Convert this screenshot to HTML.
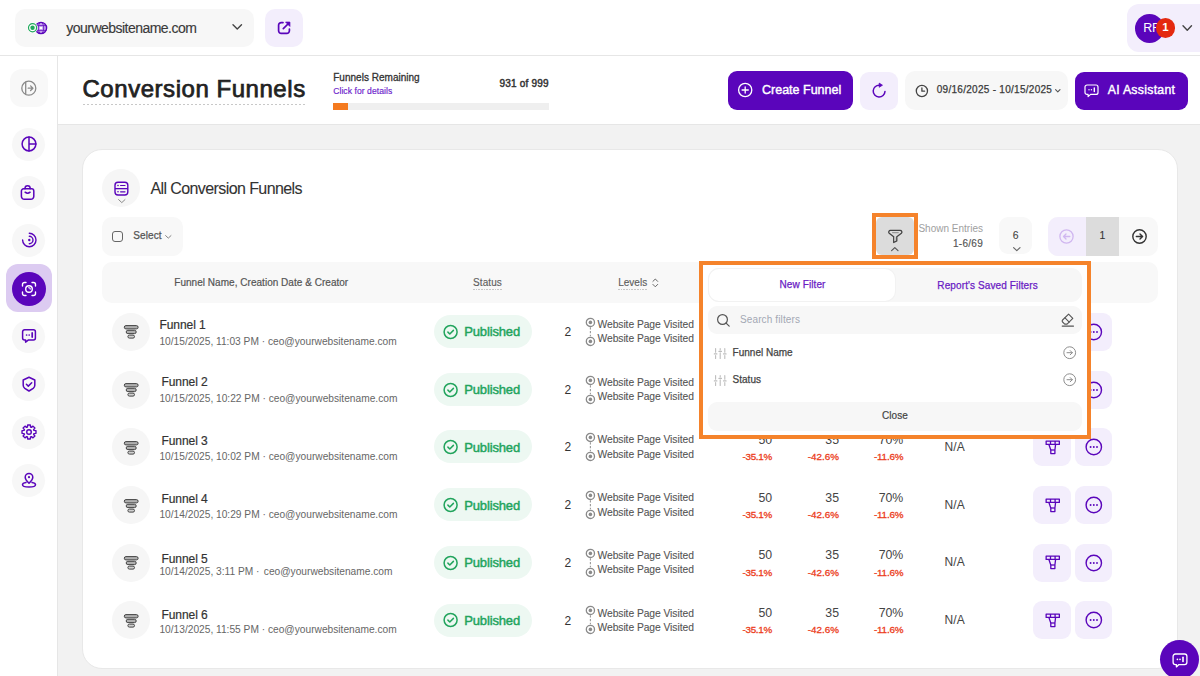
<!DOCTYPE html>
<html><head><meta charset="utf-8"><title>Conversion Funnels</title>
<style>
html,body{margin:0;padding:0;}
body{width:1200px;height:676px;overflow:hidden;position:relative;background:#f2f2f2;font-family:"Liberation Sans",sans-serif;}
svg{display:block;overflow:visible;}
</style></head><body>
<div style="position:absolute;left:0px;top:0px;width:1200px;height:55px;background:#fff;border-radius:0px;"></div>
<div style="position:absolute;left:0px;top:55px;width:1200px;height:1px;background:#e6e6e6;border-radius:0px;"></div>
<div style="position:absolute;left:15px;top:9px;width:239px;height:38px;background:#f7f7f7;border-radius:10px;"></div>
<svg style="position:absolute;left:24px;top:17px;" width="26" height="22" viewBox="0 0 26 22" fill="none"><circle cx="17" cy="11" r="5.6" fill="#c7a5ee" stroke="#5a05bb" stroke-width="1.4"/><g stroke="#5a05bb" stroke-width="0.9" opacity="0.85"><ellipse cx="17" cy="11" rx="2.7" ry="5.6"/><line x1="11.4" y1="8.6" x2="22.6" y2="8.6"/><line x1="11.4" y1="13.4" x2="22.6" y2="13.4"/></g><circle cx="17" cy="11" r="1.3" fill="#fff"/><circle cx="8.55" cy="10.75" r="5.2" fill="#fff"/><circle cx="8.55" cy="10.75" r="4.05" stroke="#1ea85a" stroke-width="1.2" fill="#fff"/><circle cx="8.55" cy="10.75" r="2.2" fill="#1ea85a"/></svg>
<div style="position:absolute;top:21.15px;font-size:14px;line-height:14px;color:#3a3a3a;font-weight:400;letter-spacing:-0.53px;white-space:nowrap;-webkit-text-stroke:0.15px #3a3a3a;left:66.3px;">yourwebsitename.com</div>
<svg style="position:absolute;left:232px;top:24px;" width="11" height="6" viewBox="0 0 11 6" fill="none"><polyline points="1,0.8 5.25,5 9.5,0.8" stroke="#444" stroke-width="1.4" stroke-linecap="round" stroke-linejoin="round"/></svg>
<div style="position:absolute;left:264.5px;top:9px;width:38.5px;height:38px;background:#f3eefc;border-radius:10px;"></div>
<svg style="position:absolute;left:276.5px;top:21px;" width="14" height="14" viewBox="0 0 14 14" fill="none"><path d="M6 1.6H4.2A2.6 2.6 0 0 0 1.6 4.2v5.6A2.6 2.6 0 0 0 4.2 12.4h5.6a2.6 2.6 0 0 0 2.6-2.6V8" stroke="#5a05bb" stroke-width="1.7" stroke-linecap="round"/><path d="M6.3 7.7L12 2" stroke="#5a05bb" stroke-width="1.7" stroke-linecap="round"/><path d="M8.6 1.1H12.9V5.4Z" fill="#5a05bb" stroke="#5a05bb" stroke-width="0.8" stroke-linejoin="round"/></svg>
<div style="position:absolute;left:1127px;top:4px;width:88px;height:48px;background:#f3eefc;border-radius:12px;"></div>
<div style="position:absolute;left:1135.00px;top:13.50px;width:29px;height:29px;background:#5a05bb;border-radius:50%;"></div>
<div style="position:absolute;top:22.32px;font-size:12.5px;line-height:12.5px;color:#fff;font-weight:400;letter-spacing:-0.3px;white-space:nowrap;left:1143.3px;">RF</div>
<div style="position:absolute;left:1155.75px;top:18.25px;width:19.5px;height:19.5px;background:#e4290f;border-radius:50%;"></div>
<div style="position:absolute;top:22.47px;font-size:11.5px;line-height:11.5px;color:#fff;font-weight:700;letter-spacing:0px;white-space:nowrap;left:865.5px;width:600px;text-align:center;">1</div>
<svg style="position:absolute;left:1181.5px;top:24.5px;" width="11" height="6.5" viewBox="0 0 11 6.5" fill="none"><polyline points="1,0.8 5.25,5.2 9.5,0.8" stroke="#444" stroke-width="1.4" stroke-linecap="round" stroke-linejoin="round"/></svg>
<div style="position:absolute;left:0px;top:56px;width:57px;height:620px;background:#fff;border-radius:0px;"></div>
<div style="position:absolute;left:57px;top:56px;width:1px;height:620px;background:#e6e6e6;border-radius:0px;"></div>
<div style="position:absolute;left:10px;top:69px;width:38px;height:38px;background:#f8f8f8;border-radius:12px;"></div>
<svg style="position:absolute;left:20px;top:80px;" width="18" height="17" viewBox="0 0 18 17" fill="none"><circle cx="8.8" cy="8.2" r="7" stroke="#8a8a8a" stroke-width="1.3"/><line x1="5.7" y1="1.8" x2="5.7" y2="14.6" stroke="#8a8a8a" stroke-width="1.3"/><path d="M8.2 8.2h4.6M10.6 5.9l2.3 2.3-2.3 2.3" stroke="#8a8a8a" stroke-width="1.3" stroke-linecap="round" stroke-linejoin="round"/></svg>
<div style="position:absolute;left:12.10px;top:127.50px;width:33px;height:33px;background:#f7f7f7;border-radius:50%;"></div>
<div style="position:absolute;left:12.10px;top:175.50px;width:33px;height:33px;background:#f7f7f7;border-radius:50%;"></div>
<div style="position:absolute;left:12.10px;top:223.50px;width:33px;height:33px;background:#f7f7f7;border-radius:50%;"></div>
<div style="position:absolute;left:12.10px;top:319.50px;width:33px;height:33px;background:#f7f7f7;border-radius:50%;"></div>
<div style="position:absolute;left:12.10px;top:367.50px;width:33px;height:33px;background:#f7f7f7;border-radius:50%;"></div>
<div style="position:absolute;left:12.10px;top:415.50px;width:33px;height:33px;background:#f7f7f7;border-radius:50%;"></div>
<div style="position:absolute;left:12.10px;top:463.50px;width:33px;height:33px;background:#f7f7f7;border-radius:50%;"></div>
<div style="position:absolute;left:5.5px;top:264px;width:46.5px;height:48px;background:#dccbf1;border-radius:12px;"></div>
<div style="position:absolute;left:11.90px;top:271.50px;width:34px;height:34px;background:#5a05bb;border-radius:50%;"></div>
<svg style="position:absolute;left:20.6px;top:136px;" width="16" height="16" viewBox="0 0 16 16" fill="none"><circle cx="8" cy="8" r="6.9" stroke="#5a05bb" stroke-width="1.5" stroke-linecap="round" stroke-linejoin="round"/><path d="M8 1.1V14.9M8 8H14.9" stroke="#5a05bb" stroke-width="1.5" stroke-linecap="round" stroke-linejoin="round"/></svg>
<svg style="position:absolute;left:20.4px;top:184px;" width="16" height="16" viewBox="0 0 16 16" fill="none"><path d="M3.6 4.8h8a2.2 2.2 0 0 1 2.2 2.2v5.3a3 3 0 0 1-3 3H4.4a3 3 0 0 1-3-3V7a2.2 2.2 0 0 1 2.2-2.2z" stroke="#5a05bb" stroke-width="1.5" stroke-linecap="round" stroke-linejoin="round"/><path d="M5 4.8V4.3a2.6 2.6 0 0 1 5.2 0v.5" stroke="#5a05bb" stroke-width="1.5" stroke-linecap="round" stroke-linejoin="round"/><path d="M5.1 8.2q2.5 2 5 0" stroke="#5a05bb" stroke-width="1.5" stroke-linecap="round" stroke-linejoin="round"/></svg>
<svg style="position:absolute;left:20.6px;top:232px;" width="16" height="16" viewBox="0 0 16 16" fill="none"><path d="M8.3 1.3A6.7 6.7 0 1 1 1.6 8" stroke="#5a05bb" stroke-width="1.4" stroke-linecap="round"/><path d="M8.3 4.3A3.7 3.7 0 0 1 8.3 11.7" stroke="#5a05bb" stroke-width="1.4" stroke-linecap="round"/><circle cx="8.3" cy="8" r="1.2" fill="#5a05bb"/></svg>
<svg style="position:absolute;left:20.9px;top:280.5px;" width="16" height="16" viewBox="0 0 16 16" fill="none"><path d="M1.5 5V3.5a2 2 0 0 1 2-2H5M11 1.5h1.5a2 2 0 0 1 2 2V5M14.5 11v1.5a2 2 0 0 1-2 2H11M5 14.5H3.5a2 2 0 0 1-2-2V11" stroke="#fff" stroke-width="1.4" stroke-linecap="round"/><circle cx="8" cy="8" r="3.3" stroke="#fff" stroke-width="1.4"/><path d="M7.6 6.8a1.2 1.2 0 0 1 1.6 1.4" stroke="#fff" stroke-width="1.1" stroke-linecap="round"/></svg>
<svg style="position:absolute;left:20.6px;top:328px;" width="16" height="16" viewBox="0 0 16 16" fill="none"><path d="M3.6 1.8h8.8a2 2 0 0 1 2 2v6.3a2 2 0 0 1-2 2H7.2L4.6 14.1V12.1H3.6a2 2 0 0 1-2-2V3.8a2 2 0 0 1 2-2z" stroke="#5a05bb" stroke-width="1.5" stroke-linecap="round" stroke-linejoin="round"/><circle cx="5.6" cy="7" r="0.85" fill="#5a05bb"/><circle cx="8.2" cy="7" r="0.85" fill="#5a05bb"/><path d="M11.2 4.9V9.1" stroke="#5a05bb" stroke-width="1.7" stroke-linecap="round"/></svg>
<svg style="position:absolute;left:20.6px;top:376px;" width="16" height="16" viewBox="0 0 16 16" fill="none"><path d="M8 1.3L13.8 4v5.2c0 1.3-.6 2.4-1.6 3.2L8 15l-4.2-2.6c-1-.8-1.6-1.9-1.6-3.2V4z" stroke="#5a05bb" stroke-width="1.5" stroke-linecap="round" stroke-linejoin="round"/><path d="M5.4 8.3l1.9 1.8 3.4-3.3" stroke="#5a05bb" stroke-width="1.5" stroke-linecap="round" stroke-linejoin="round"/></svg>
<svg style="position:absolute;left:20.6px;top:424px;" width="16" height="16" viewBox="0 0 16 16" fill="none"><polygon points="12.95,6.41 14.97,6.66 14.97,9.34 12.95,9.59 12.62,10.38 13.88,11.98 11.98,13.88 10.38,12.62 9.59,12.95 9.34,14.97 6.66,14.97 6.41,12.95 5.62,12.62 4.02,13.88 2.12,11.98 3.38,10.38 3.05,9.59 1.03,9.34 1.03,6.66 3.05,6.41 3.38,5.62 2.12,4.02 4.02,2.12 5.62,3.38 6.41,3.05 6.66,1.03 9.34,1.03 9.59,3.05 10.38,3.38 11.98,2.12 13.88,4.02 12.62,5.62" stroke="#5a05bb" stroke-width="1.4" stroke-linejoin="round"/><circle cx="8" cy="8" r="2.3" stroke="#5a05bb" stroke-width="1.4"/></svg>
<svg style="position:absolute;left:20.6px;top:472px;" width="16" height="16" viewBox="0 0 16 16" fill="none"><path d="M8 11.2S4.2 7.6 4.2 5.2a3.8 3.8 0 0 1 7.6 0c0 2.4-3.8 6-3.8 6z" stroke="#5a05bb" stroke-width="1.5" stroke-linecap="round" stroke-linejoin="round"/><circle cx="8" cy="5.2" r="1.1" fill="#5a05bb"/><path d="M5 10.6c-2.2.4-3.5 1.2-3.5 2.1 0 1.3 2.9 2.3 6.5 2.3s6.5-1 6.5-2.3c0-.9-1.3-1.7-3.5-2.1" stroke="#5a05bb" stroke-width="1.5" stroke-linecap="round" stroke-linejoin="round"/></svg>
<div style="position:absolute;left:58px;top:56px;width:1142px;height:68px;background:#fff;border-radius:0px;"></div>
<div style="position:absolute;left:58px;top:124px;width:1142px;height:1px;background:#e6e6e6;border-radius:0px;"></div>
<div style="position:absolute;top:77.48px;font-size:24px;line-height:24px;color:#222;font-weight:400;letter-spacing:0.54px;white-space:nowrap;-webkit-text-stroke:0.75px #222;left:82.5px;">Conversion Funnels</div>
<div style="position:absolute;left:82.5px;top:104px;width:222.5px;height:1px;background:repeating-linear-gradient(90deg,#c8c8c8 0 2.2px,transparent 2.2px 4.0px);"></div>
<div style="position:absolute;top:72.53px;font-size:10px;line-height:10px;color:#333;font-weight:400;letter-spacing:0.02px;white-space:nowrap;-webkit-text-stroke:0.3px #333;left:333.2px;">Funnels Remaining</div>
<div style="position:absolute;top:86.52px;font-size:8.6px;line-height:8.6px;color:#6b1dcb;font-weight:400;letter-spacing:0.05px;white-space:nowrap;-webkit-text-stroke:0.15px #6b1dcb;left:333.2px;">Click for details</div>
<div style="position:absolute;top:78.83px;font-size:10px;line-height:10px;color:#333;font-weight:400;letter-spacing:0.2px;white-space:nowrap;-webkit-text-stroke:0.45px #333;right:651.3px;text-align:right;">931 of 999</div>
<div style="position:absolute;left:333px;top:103px;width:216px;height:7px;background:#efefef;border-radius:0px;"></div>
<div style="position:absolute;left:333px;top:103px;width:15px;height:7px;background:#f47a1f;border-radius:0px;"></div>
<div style="position:absolute;left:728px;top:71px;width:125px;height:39px;background:#5a05bb;border-radius:9px;"></div>
<svg style="position:absolute;left:737px;top:82px;" width="16" height="16" viewBox="0 0 16 16" fill="none"><circle cx="8.2" cy="8" r="6.6" stroke="#fff" stroke-width="1.3"/><path d="M8.2 4.9v6.2M5.1 8h6.2" stroke="#fff" stroke-width="1.3" stroke-linecap="round"/></svg>
<div style="position:absolute;top:84.22px;font-size:12.5px;line-height:12.5px;color:#fff;font-weight:400;letter-spacing:0px;white-space:nowrap;-webkit-text-stroke:0.4px #fff;left:762px;">Create Funnel</div>
<div style="position:absolute;left:860px;top:71.5px;width:37.5px;height:38.0px;background:#f3eefc;border-radius:9px;"></div>
<svg style="position:absolute;left:871px;top:83px;" width="16" height="16" viewBox="0 0 16 16" fill="none"><path d="M14 8.4A5.9 5.9 0 1 1 8.4 2.2" stroke="#5a05bb" stroke-width="1.5" stroke-linecap="round"/><path d="M8.2 0.1L11.5 2.2 8.2 4.3Z" fill="#5a05bb" stroke="#5a05bb" stroke-width="0.7" stroke-linejoin="round"/></svg>
<div style="position:absolute;left:905px;top:71px;width:162.70000000000005px;height:38.5px;background:#f7f7f7;border-radius:10px;"></div>
<svg style="position:absolute;left:915px;top:84px;" width="14" height="14" viewBox="0 0 14 14" fill="none"><circle cx="6.9" cy="7" r="5.6" stroke="#444" stroke-width="1.3"/><path d="M6.9 3.9V7.2H9.6" stroke="#444" stroke-width="1.3" stroke-linecap="round" stroke-linejoin="round"/></svg>
<div style="position:absolute;top:85.44px;font-size:10px;line-height:10px;color:#3a3a3a;font-weight:400;letter-spacing:0.28px;white-space:nowrap;-webkit-text-stroke:0.25px #3a3a3a;left:936.75px;">09/16/2025 - 10/15/2025</div>
<svg style="position:absolute;left:1055px;top:88.5px;" width="6" height="4" viewBox="0 0 6 4" fill="none"><polyline points="0.6,0.6 2.8,2.9 5,0.6" stroke="#555" stroke-width="1.1" stroke-linecap="round" stroke-linejoin="round"/></svg>
<div style="position:absolute;left:1074.7px;top:71.5px;width:113.0px;height:38.3px;background:#5a05bb;border-radius:9px;"></div>
<svg style="position:absolute;left:1084px;top:84px;" width="15" height="14" viewBox="0 0 15 14" fill="none"><path d="M3 1h9a2 2 0 0 1 2 2v5.4a2 2 0 0 1-2 2H6.6L4.1 12.6V10.4H3a2 2 0 0 1-2-2V3a2 2 0 0 1 2-2z" stroke="#fff" stroke-width="1.2" stroke-linejoin="round"/><circle cx="5" cy="5.7" r="0.7" fill="#fff"/><circle cx="7.4" cy="5.7" r="0.7" fill="#fff"/><path d="M10.3 3.9V7.5" stroke="#fff" stroke-width="1.4" stroke-linecap="round"/></svg>
<div style="position:absolute;top:84.29px;font-size:12.3px;line-height:12.3px;color:#fff;font-weight:400;letter-spacing:0.28px;white-space:nowrap;-webkit-text-stroke:0.4px #fff;left:1107.7px;">AI Assistant</div>
<div style="position:absolute;left:82px;top:149px;width:1095.5px;height:520px;background:#fff;border-radius:20px;border:1px solid #e8e8e8;box-sizing:border-box;"></div>
<div style="position:absolute;left:102.00px;top:169.00px;width:38px;height:38px;background:#f6f6f6;border-radius:50%;"></div>
<svg style="position:absolute;left:114px;top:181px;" width="15" height="15" viewBox="0 0 15 15" fill="none"><rect x="1" y="1.3" width="12.8" height="12.7" rx="3" stroke="#5a05bb" stroke-width="1.4"/><path d="M1 7.65H13.8" stroke="#5a05bb" stroke-width="1.3"/><circle cx="4" cy="4.5" r="0.8" fill="#5a05bb"/><circle cx="4" cy="10.8" r="0.8" fill="#5a05bb"/><path d="M6.6 4.5h4.4M6.6 10.8h4.4" stroke="#5a05bb" stroke-width="1.2" stroke-linecap="round"/></svg>
<svg style="position:absolute;left:117.5px;top:198.5px;" width="8" height="5" viewBox="0 0 8 5" fill="none"><polyline points="0.6,0.6 3.8,3.6 7,0.6" stroke="#8a8a8a" stroke-width="1" stroke-linecap="round" stroke-linejoin="round"/></svg>
<div style="position:absolute;top:181.46px;font-size:16px;line-height:16px;color:#333;font-weight:400;letter-spacing:-0.59px;white-space:nowrap;-webkit-text-stroke:0.1px #333;left:150.4px;">All Conversion Funnels</div>
<div style="position:absolute;left:102px;top:217px;width:81px;height:39px;background:#f8f8f8;border-radius:10px;"></div>
<div style="position:absolute;left:112px;top:230.5px;width:9px;height:9px;border:1.5px solid #666;border-radius:3px;"></div>
<div style="position:absolute;top:231.13px;font-size:10px;line-height:10px;color:#555;font-weight:400;letter-spacing:0.1px;white-space:nowrap;-webkit-text-stroke:0.25px #555;left:133.3px;">Select</div>
<svg style="position:absolute;left:165.2px;top:234.5px;" width="7" height="4" viewBox="0 0 7 4" fill="none"><polyline points="0.6,0.6 3.3,3.1 6,0.6" stroke="#777" stroke-width="0.9" stroke-linecap="round" stroke-linejoin="round"/></svg>
<div style="position:absolute;left:872px;top:213px;width:38px;height:38px;border:4px solid #f5832b;"></div>
<div style="position:absolute;left:876px;top:217px;width:38px;height:38px;background:#dcdcdc;border-radius:6px;"></div>
<svg style="position:absolute;left:880px;top:222px;" width="30" height="30" viewBox="0 0 30 30" fill="none"><path d="M10.4 8.4H20.2A1.7 1.7 0 0 1 21.4 11.3L16.8 14.8V18.9L13.7 20.5V14.8L9.2 11.3A1.7 1.7 0 0 1 10.4 8.4Z" stroke="#444" stroke-width="1.3" stroke-linejoin="round"/><path d="M12.6 10.6H18.2" stroke="#999" stroke-width="1.3" stroke-linecap="round"/><path d="M14.9 15.2V19" stroke="#bbb" stroke-width="1.6"/></svg>
<svg style="position:absolute;left:891.3px;top:247px;" width="8" height="4.5" viewBox="0 0 8 4.5" fill="none"><polyline points="0.6,3.6 3.8,0.6 7,3.6" stroke="#555" stroke-width="1.2" stroke-linecap="round" stroke-linejoin="round"/></svg>
<div style="position:absolute;top:223.94px;font-size:10px;line-height:10px;color:#a0a0a0;font-weight:400;letter-spacing:0.01px;white-space:nowrap;right:217px;text-align:right;">Shown Entries</div>
<div style="position:absolute;top:239.13px;font-size:10px;line-height:10px;color:#555;font-weight:400;letter-spacing:0.27px;white-space:nowrap;-webkit-text-stroke:0.15px #555;right:217px;text-align:right;">1-6/69</div>
<div style="position:absolute;left:999.3px;top:217.3px;width:33.0px;height:37.19999999999999px;background:#f8f8f8;border-radius:9px;"></div>
<div style="position:absolute;top:231.00px;font-size:10.4px;line-height:10.4px;color:#444;font-weight:400;letter-spacing:0px;white-space:nowrap;-webkit-text-stroke:0.1px #444;left:715.6px;width:600px;text-align:center;">6</div>
<svg style="position:absolute;left:1012.5px;top:246.5px;" width="8" height="4.5" viewBox="0 0 8 4.5" fill="none"><polyline points="0.6,0.6 3.8,3.6 7,0.6" stroke="#666" stroke-width="1.2" stroke-linecap="round" stroke-linejoin="round"/></svg>
<div style="position:absolute;left:1048.2px;top:217.3px;width:109.5px;height:38.39999999999998px;background:#f8f8f8;border-radius:10px;"></div>
<div style="position:absolute;left:1048.2px;top:217.3px;width:37.8px;height:38.4px;background:#f3eefc;border-radius:10px 0 0 10px;"></div>
<div style="position:absolute;left:1086px;top:217.3px;width:33.299999999999955px;height:38.39999999999998px;background:#dcdcdc;border-radius:0px;"></div>
<svg style="position:absolute;left:1059px;top:229px;" width="15" height="15" viewBox="0 0 15 15" fill="none"><circle cx="7.5" cy="7.5" r="6.6" stroke="#d0b7f0" stroke-width="1.3"/><path d="M10.8 7.5H4.5M7 5 4.5 7.5 7 10" stroke="#d0b7f0" stroke-width="1.3" stroke-linecap="round" stroke-linejoin="round"/></svg>
<div style="position:absolute;top:231.00px;font-size:10.4px;line-height:10.4px;color:#333;font-weight:400;letter-spacing:0px;white-space:nowrap;-webkit-text-stroke:0.1px #333;left:802.5px;width:600px;text-align:center;">1</div>
<svg style="position:absolute;left:1131.5px;top:229px;" width="15" height="15" viewBox="0 0 15 15" fill="none"><circle cx="7.5" cy="7.5" r="6.7" stroke="#333" stroke-width="1.4"/><path d="M4.3 7.5h6.3M8 5l2.6 2.5L8 10" stroke="#333" stroke-width="1.4" stroke-linecap="round" stroke-linejoin="round"/></svg>
<div style="position:absolute;left:101.5px;top:262px;width:1056.5px;height:41px;background:#f8f8f8;border-radius:10px;"></div>
<div style="position:absolute;top:277.54px;font-size:10px;line-height:10px;color:#555;font-weight:400;letter-spacing:0.03px;white-space:nowrap;-webkit-text-stroke:0.2px #555;left:174.3px;">Funnel Name, Creation Date &amp; Creator</div>
<div style="position:absolute;top:277.84px;font-size:10px;line-height:10px;color:#5e5e5e;font-weight:400;letter-spacing:0.1px;white-space:nowrap;-webkit-text-stroke:0.15px #5e5e5e;left:473px;">Status</div>
<div style="position:absolute;left:473px;top:289px;width:29.5px;height:1px;background:repeating-linear-gradient(90deg,#c6c6c6 0 1.7px,transparent 1.7px 2.7px);"></div>
<div style="position:absolute;top:277.84px;font-size:10px;line-height:10px;color:#5e5e5e;font-weight:400;letter-spacing:0px;white-space:nowrap;-webkit-text-stroke:0.15px #5e5e5e;left:618.25px;">Levels</div>
<div style="position:absolute;left:618px;top:289px;width:30px;height:1px;background:repeating-linear-gradient(90deg,#c6c6c6 0 1.7px,transparent 1.7px 2.7px);"></div>
<svg style="position:absolute;left:652px;top:277.5px;" width="7" height="10" viewBox="0 0 7 10" fill="none"><polyline points="0.9,3.4 3.3,1 5.7,3.4" stroke="#666" stroke-width="1" stroke-linecap="round" stroke-linejoin="round"/><polyline points="0.9,6.4 3.3,8.8 5.7,6.4" stroke="#666" stroke-width="1" stroke-linecap="round" stroke-linejoin="round"/></svg>
<div style="position:absolute;left:111.80px;top:312.70px;width:38px;height:38px;background:#f6f6f6;border-radius:50%;"></div>
<svg style="position:absolute;left:122.5px;top:325.3px;" width="16" height="14" viewBox="0 0 16 14" fill="none"><rect x="1.3" y="0.6" width="13.8" height="3.3" rx="1.65" fill="#b0b0b0" stroke="#444" stroke-width="1"/><rect x="3.2" y="5.3" width="10" height="3.3" rx="1.65" fill="#b0b0b0" stroke="#444" stroke-width="1"/><rect x="4.9" y="10.1" width="6.6" height="3.0" rx="1.5" fill="#d0d0d0" stroke="#444" stroke-width="1"/></svg>
<div style="position:absolute;top:318.59px;font-size:12px;line-height:12px;color:#333;font-weight:400;letter-spacing:-0.05px;white-space:nowrap;-webkit-text-stroke:0.2px #333;left:159.4px;">Funnel 1</div>
<div style="position:absolute;top:336.57px;font-size:10.2px;line-height:10.2px;color:#666;font-weight:400;letter-spacing:0px;white-space:nowrap;left:159.4px;">10/15/2025, 11:03 PM · ceo@yourwebsitename.com</div>
<div style="position:absolute;left:434px;top:315.0px;width:98px;height:33.0px;background:#edf8f2;border-radius:16.5px;"></div>
<svg style="position:absolute;left:442.5px;top:323.7px;" width="16" height="16" viewBox="0 0 16 16" fill="none"><circle cx="7.6" cy="8" r="6.5" stroke="#22a45d" stroke-width="1.5"/><path d="M4.9 8.1l1.9 1.9 3.6-3.6" stroke="#22a45d" stroke-width="1.5" stroke-linecap="round" stroke-linejoin="round"/></svg>
<div style="position:absolute;top:325.30px;font-size:13px;line-height:13px;color:#22a45d;font-weight:400;letter-spacing:-0.15px;white-space:nowrap;-webkit-text-stroke:0.45px #22a45d;left:464.25px;">Published</div>
<div style="position:absolute;top:325.94px;font-size:12px;line-height:12px;color:#333;font-weight:400;letter-spacing:0px;white-space:nowrap;left:564.5px;">2</div>
<svg style="position:absolute;left:584.5px;top:316.7px;" width="11" height="30" viewBox="0 0 11 30" fill="none"><circle cx="5.4" cy="5.4" r="4.1" stroke="#8a8a8a" stroke-width="1.3"/><circle cx="5.4" cy="5.4" r="1.8" fill="#8a8a8a"/><path d="M5.4 10.2V19.2" stroke="#999" stroke-width="1.1" stroke-dasharray="2.2 1.6"/><circle cx="5.4" cy="24.4" r="4.1" stroke="#8a8a8a" stroke-width="1.3"/><circle cx="5.4" cy="24.4" r="1.8" fill="#8a8a8a"/></svg>
<div style="position:absolute;top:319.98px;font-size:10.3px;line-height:10.3px;color:#555;font-weight:400;letter-spacing:-0.06px;white-space:nowrap;-webkit-text-stroke:0.1px #555;left:597.5px;">Website Page Visited</div>
<div style="position:absolute;top:334.28px;font-size:10.3px;line-height:10.3px;color:#555;font-weight:400;letter-spacing:-0.06px;white-space:nowrap;-webkit-text-stroke:0.1px #555;left:597.5px;">Website Page Visited</div>
<div style="position:absolute;top:318.29px;font-size:12.3px;line-height:12.3px;color:#444;font-weight:400;letter-spacing:0.1px;white-space:nowrap;right:427.70000000000005px;text-align:right;">50</div>
<div style="position:absolute;top:336.72px;font-size:9.9px;line-height:9.9px;color:#ec3d20;font-weight:400;letter-spacing:-0.3px;white-space:nowrap;-webkit-text-stroke:0.3px #ec3d20;right:428px;text-align:right;">-35.1%</div>
<div style="position:absolute;top:318.29px;font-size:12.3px;line-height:12.3px;color:#444;font-weight:400;letter-spacing:0.1px;white-space:nowrap;right:360.79999999999995px;text-align:right;">35</div>
<div style="position:absolute;top:336.72px;font-size:9.9px;line-height:9.9px;color:#ec3d20;font-weight:400;letter-spacing:0.0px;white-space:nowrap;-webkit-text-stroke:0.3px #ec3d20;right:361px;text-align:right;">-42.6%</div>
<div style="position:absolute;top:318.29px;font-size:12.3px;line-height:12.3px;color:#444;font-weight:400;letter-spacing:0.0px;white-space:nowrap;right:296.70000000000005px;text-align:right;">70%</div>
<div style="position:absolute;top:336.72px;font-size:9.9px;line-height:9.9px;color:#ec3d20;font-weight:400;letter-spacing:-0.2px;white-space:nowrap;-webkit-text-stroke:0.3px #ec3d20;right:296.70000000000005px;text-align:right;">-11.6%</div>
<div style="position:absolute;top:325.34px;font-size:12px;line-height:12px;color:#444;font-weight:400;letter-spacing:0.13px;white-space:nowrap;left:944.5px;">N/A</div>
<div style="position:absolute;left:1033.3px;top:312.7px;width:37.40000000000009px;height:38.0px;background:#f3eefc;border-radius:9px;"></div>
<svg style="position:absolute;left:1044.5px;top:324.2px;" width="16" height="15" viewBox="0 0 16 15" fill="none"><g stroke="#5a05bb" stroke-width="1.3" stroke-linejoin="round"><rect x="1.15" y="1.05" width="13.2" height="3.4"/><path d="M5.5 1.05v3.4M10.1 1.05v3.4"/><path d="M3.9 4.45L5.8 10V13.6H9.9V10L10.6 4.45"/><path d="M5.8 10H9.9"/></g></svg>
<div style="position:absolute;left:1075.3px;top:312.7px;width:37.200000000000045px;height:38.0px;background:#f3eefc;border-radius:9px;"></div>
<svg style="position:absolute;left:1085px;top:322.7px;" width="18" height="18" viewBox="0 0 18 18" fill="none"><circle cx="8.8" cy="9" r="7.7" stroke="#5a05bb" stroke-width="1.4"/><circle cx="5.6" cy="9" r="0.95" fill="#5a05bb"/><circle cx="8.8" cy="9" r="0.95" fill="#5a05bb"/><circle cx="12" cy="9" r="0.95" fill="#5a05bb"/></svg>
<div style="position:absolute;left:111.80px;top:370.50px;width:38px;height:38px;background:#f6f6f6;border-radius:50%;"></div>
<svg style="position:absolute;left:122.5px;top:383.1px;" width="16" height="14" viewBox="0 0 16 14" fill="none"><rect x="1.3" y="0.6" width="13.8" height="3.3" rx="1.65" fill="#b0b0b0" stroke="#444" stroke-width="1"/><rect x="3.2" y="5.3" width="10" height="3.3" rx="1.65" fill="#b0b0b0" stroke="#444" stroke-width="1"/><rect x="4.9" y="10.1" width="6.6" height="3.0" rx="1.5" fill="#d0d0d0" stroke="#444" stroke-width="1"/></svg>
<div style="position:absolute;top:375.84px;font-size:12px;line-height:12px;color:#333;font-weight:400;letter-spacing:-0.05px;white-space:nowrap;-webkit-text-stroke:0.2px #333;left:161.4px;">Funnel 2</div>
<div style="position:absolute;top:394.37px;font-size:10.2px;line-height:10.2px;color:#666;font-weight:400;letter-spacing:0px;white-space:nowrap;left:159.4px;">10/15/2025, 10:22 PM · ceo@yourwebsitename.com</div>
<div style="position:absolute;left:434px;top:372.8px;width:98px;height:33.0px;background:#edf8f2;border-radius:16.5px;"></div>
<svg style="position:absolute;left:442.5px;top:381.5px;" width="16" height="16" viewBox="0 0 16 16" fill="none"><circle cx="7.6" cy="8" r="6.5" stroke="#22a45d" stroke-width="1.5"/><path d="M4.9 8.1l1.9 1.9 3.6-3.6" stroke="#22a45d" stroke-width="1.5" stroke-linecap="round" stroke-linejoin="round"/></svg>
<div style="position:absolute;top:383.10px;font-size:13px;line-height:13px;color:#22a45d;font-weight:400;letter-spacing:-0.15px;white-space:nowrap;-webkit-text-stroke:0.45px #22a45d;left:464.25px;">Published</div>
<div style="position:absolute;top:383.74px;font-size:12px;line-height:12px;color:#333;font-weight:400;letter-spacing:0px;white-space:nowrap;left:564.5px;">2</div>
<svg style="position:absolute;left:584.5px;top:374.5px;" width="11" height="30" viewBox="0 0 11 30" fill="none"><circle cx="5.4" cy="5.4" r="4.1" stroke="#8a8a8a" stroke-width="1.3"/><circle cx="5.4" cy="5.4" r="1.8" fill="#8a8a8a"/><path d="M5.4 10.2V19.2" stroke="#999" stroke-width="1.1" stroke-dasharray="2.2 1.6"/><circle cx="5.4" cy="24.4" r="4.1" stroke="#8a8a8a" stroke-width="1.3"/><circle cx="5.4" cy="24.4" r="1.8" fill="#8a8a8a"/></svg>
<div style="position:absolute;top:377.78px;font-size:10.3px;line-height:10.3px;color:#555;font-weight:400;letter-spacing:-0.06px;white-space:nowrap;-webkit-text-stroke:0.1px #555;left:597.5px;">Website Page Visited</div>
<div style="position:absolute;top:392.08px;font-size:10.3px;line-height:10.3px;color:#555;font-weight:400;letter-spacing:-0.06px;white-space:nowrap;-webkit-text-stroke:0.1px #555;left:597.5px;">Website Page Visited</div>
<div style="position:absolute;top:376.09px;font-size:12.3px;line-height:12.3px;color:#444;font-weight:400;letter-spacing:0.1px;white-space:nowrap;right:427.70000000000005px;text-align:right;">50</div>
<div style="position:absolute;top:394.52px;font-size:9.9px;line-height:9.9px;color:#ec3d20;font-weight:400;letter-spacing:-0.3px;white-space:nowrap;-webkit-text-stroke:0.3px #ec3d20;right:428px;text-align:right;">-35.1%</div>
<div style="position:absolute;top:376.09px;font-size:12.3px;line-height:12.3px;color:#444;font-weight:400;letter-spacing:0.1px;white-space:nowrap;right:360.79999999999995px;text-align:right;">35</div>
<div style="position:absolute;top:394.52px;font-size:9.9px;line-height:9.9px;color:#ec3d20;font-weight:400;letter-spacing:0.0px;white-space:nowrap;-webkit-text-stroke:0.3px #ec3d20;right:361px;text-align:right;">-42.6%</div>
<div style="position:absolute;top:376.09px;font-size:12.3px;line-height:12.3px;color:#444;font-weight:400;letter-spacing:0.0px;white-space:nowrap;right:296.70000000000005px;text-align:right;">70%</div>
<div style="position:absolute;top:394.52px;font-size:9.9px;line-height:9.9px;color:#ec3d20;font-weight:400;letter-spacing:-0.2px;white-space:nowrap;-webkit-text-stroke:0.3px #ec3d20;right:296.70000000000005px;text-align:right;">-11.6%</div>
<div style="position:absolute;top:383.14px;font-size:12px;line-height:12px;color:#444;font-weight:400;letter-spacing:0.13px;white-space:nowrap;left:944.5px;">N/A</div>
<div style="position:absolute;left:1033.3px;top:370.5px;width:37.40000000000009px;height:38.0px;background:#f3eefc;border-radius:9px;"></div>
<svg style="position:absolute;left:1044.5px;top:382.0px;" width="16" height="15" viewBox="0 0 16 15" fill="none"><g stroke="#5a05bb" stroke-width="1.3" stroke-linejoin="round"><rect x="1.15" y="1.05" width="13.2" height="3.4"/><path d="M5.5 1.05v3.4M10.1 1.05v3.4"/><path d="M3.9 4.45L5.8 10V13.6H9.9V10L10.6 4.45"/><path d="M5.8 10H9.9"/></g></svg>
<div style="position:absolute;left:1075.3px;top:370.5px;width:37.200000000000045px;height:38.0px;background:#f3eefc;border-radius:9px;"></div>
<svg style="position:absolute;left:1085px;top:380.5px;" width="18" height="18" viewBox="0 0 18 18" fill="none"><circle cx="8.8" cy="9" r="7.7" stroke="#5a05bb" stroke-width="1.4"/><circle cx="5.6" cy="9" r="0.95" fill="#5a05bb"/><circle cx="8.8" cy="9" r="0.95" fill="#5a05bb"/><circle cx="12" cy="9" r="0.95" fill="#5a05bb"/></svg>
<div style="position:absolute;left:111.80px;top:428.00px;width:38px;height:38px;background:#f6f6f6;border-radius:50%;"></div>
<svg style="position:absolute;left:122.5px;top:440.6px;" width="16" height="14" viewBox="0 0 16 14" fill="none"><rect x="1.3" y="0.6" width="13.8" height="3.3" rx="1.65" fill="#b0b0b0" stroke="#444" stroke-width="1"/><rect x="3.2" y="5.3" width="10" height="3.3" rx="1.65" fill="#b0b0b0" stroke="#444" stroke-width="1"/><rect x="4.9" y="10.1" width="6.6" height="3.0" rx="1.5" fill="#d0d0d0" stroke="#444" stroke-width="1"/></svg>
<div style="position:absolute;top:434.94px;font-size:12px;line-height:12px;color:#333;font-weight:400;letter-spacing:-0.05px;white-space:nowrap;-webkit-text-stroke:0.2px #333;left:161.4px;">Funnel 3</div>
<div style="position:absolute;top:451.57px;font-size:10.2px;line-height:10.2px;color:#666;font-weight:400;letter-spacing:0px;white-space:nowrap;left:159.4px;">10/15/2025, 10:02 PM · ceo@yourwebsitename.com</div>
<div style="position:absolute;left:434px;top:430.3px;width:98px;height:33.0px;background:#edf8f2;border-radius:16.5px;"></div>
<svg style="position:absolute;left:442.5px;top:439px;" width="16" height="16" viewBox="0 0 16 16" fill="none"><circle cx="7.6" cy="8" r="6.5" stroke="#22a45d" stroke-width="1.5"/><path d="M4.9 8.1l1.9 1.9 3.6-3.6" stroke="#22a45d" stroke-width="1.5" stroke-linecap="round" stroke-linejoin="round"/></svg>
<div style="position:absolute;top:440.60px;font-size:13px;line-height:13px;color:#22a45d;font-weight:400;letter-spacing:-0.15px;white-space:nowrap;-webkit-text-stroke:0.45px #22a45d;left:464.25px;">Published</div>
<div style="position:absolute;top:441.24px;font-size:12px;line-height:12px;color:#333;font-weight:400;letter-spacing:0px;white-space:nowrap;left:564.5px;">2</div>
<svg style="position:absolute;left:584.5px;top:432px;" width="11" height="30" viewBox="0 0 11 30" fill="none"><circle cx="5.4" cy="5.4" r="4.1" stroke="#8a8a8a" stroke-width="1.3"/><circle cx="5.4" cy="5.4" r="1.8" fill="#8a8a8a"/><path d="M5.4 10.2V19.2" stroke="#999" stroke-width="1.1" stroke-dasharray="2.2 1.6"/><circle cx="5.4" cy="24.4" r="4.1" stroke="#8a8a8a" stroke-width="1.3"/><circle cx="5.4" cy="24.4" r="1.8" fill="#8a8a8a"/></svg>
<div style="position:absolute;top:435.28px;font-size:10.3px;line-height:10.3px;color:#555;font-weight:400;letter-spacing:-0.06px;white-space:nowrap;-webkit-text-stroke:0.1px #555;left:597.5px;">Website Page Visited</div>
<div style="position:absolute;top:449.58px;font-size:10.3px;line-height:10.3px;color:#555;font-weight:400;letter-spacing:-0.06px;white-space:nowrap;-webkit-text-stroke:0.1px #555;left:597.5px;">Website Page Visited</div>
<div style="position:absolute;top:433.59px;font-size:12.3px;line-height:12.3px;color:#444;font-weight:400;letter-spacing:0.1px;white-space:nowrap;right:427.70000000000005px;text-align:right;">50</div>
<div style="position:absolute;top:452.02px;font-size:9.9px;line-height:9.9px;color:#ec3d20;font-weight:400;letter-spacing:-0.3px;white-space:nowrap;-webkit-text-stroke:0.3px #ec3d20;right:428px;text-align:right;">-35.1%</div>
<div style="position:absolute;top:433.59px;font-size:12.3px;line-height:12.3px;color:#444;font-weight:400;letter-spacing:0.1px;white-space:nowrap;right:360.79999999999995px;text-align:right;">35</div>
<div style="position:absolute;top:452.02px;font-size:9.9px;line-height:9.9px;color:#ec3d20;font-weight:400;letter-spacing:0.0px;white-space:nowrap;-webkit-text-stroke:0.3px #ec3d20;right:361px;text-align:right;">-42.6%</div>
<div style="position:absolute;top:433.59px;font-size:12.3px;line-height:12.3px;color:#444;font-weight:400;letter-spacing:0.0px;white-space:nowrap;right:296.70000000000005px;text-align:right;">70%</div>
<div style="position:absolute;top:452.02px;font-size:9.9px;line-height:9.9px;color:#ec3d20;font-weight:400;letter-spacing:-0.2px;white-space:nowrap;-webkit-text-stroke:0.3px #ec3d20;right:296.70000000000005px;text-align:right;">-11.6%</div>
<div style="position:absolute;top:440.64px;font-size:12px;line-height:12px;color:#444;font-weight:400;letter-spacing:0.13px;white-space:nowrap;left:944.5px;">N/A</div>
<div style="position:absolute;left:1033.3px;top:428px;width:37.40000000000009px;height:38px;background:#f3eefc;border-radius:9px;"></div>
<svg style="position:absolute;left:1044.5px;top:439.5px;" width="16" height="15" viewBox="0 0 16 15" fill="none"><g stroke="#5a05bb" stroke-width="1.3" stroke-linejoin="round"><rect x="1.15" y="1.05" width="13.2" height="3.4"/><path d="M5.5 1.05v3.4M10.1 1.05v3.4"/><path d="M3.9 4.45L5.8 10V13.6H9.9V10L10.6 4.45"/><path d="M5.8 10H9.9"/></g></svg>
<div style="position:absolute;left:1075.3px;top:428px;width:37.200000000000045px;height:38px;background:#f3eefc;border-radius:9px;"></div>
<svg style="position:absolute;left:1085px;top:438px;" width="18" height="18" viewBox="0 0 18 18" fill="none"><circle cx="8.8" cy="9" r="7.7" stroke="#5a05bb" stroke-width="1.4"/><circle cx="5.6" cy="9" r="0.95" fill="#5a05bb"/><circle cx="8.8" cy="9" r="0.95" fill="#5a05bb"/><circle cx="12" cy="9" r="0.95" fill="#5a05bb"/></svg>
<div style="position:absolute;left:111.80px;top:486.00px;width:38px;height:38px;background:#f6f6f6;border-radius:50%;"></div>
<svg style="position:absolute;left:122.5px;top:498.6px;" width="16" height="14" viewBox="0 0 16 14" fill="none"><rect x="1.3" y="0.6" width="13.8" height="3.3" rx="1.65" fill="#b0b0b0" stroke="#444" stroke-width="1"/><rect x="3.2" y="5.3" width="10" height="3.3" rx="1.65" fill="#b0b0b0" stroke="#444" stroke-width="1"/><rect x="4.9" y="10.1" width="6.6" height="3.0" rx="1.5" fill="#d0d0d0" stroke="#444" stroke-width="1"/></svg>
<div style="position:absolute;top:493.04px;font-size:12px;line-height:12px;color:#333;font-weight:400;letter-spacing:-0.05px;white-space:nowrap;-webkit-text-stroke:0.2px #333;left:161.4px;">Funnel 4</div>
<div style="position:absolute;top:509.97px;font-size:10.2px;line-height:10.2px;color:#666;font-weight:400;letter-spacing:0px;white-space:nowrap;left:159.4px;">10/14/2025, 10:29 PM · ceo@yourwebsitename.com</div>
<div style="position:absolute;left:434px;top:488.3px;width:98px;height:32.99999999999994px;background:#edf8f2;border-radius:16.5px;"></div>
<svg style="position:absolute;left:442.5px;top:497px;" width="16" height="16" viewBox="0 0 16 16" fill="none"><circle cx="7.6" cy="8" r="6.5" stroke="#22a45d" stroke-width="1.5"/><path d="M4.9 8.1l1.9 1.9 3.6-3.6" stroke="#22a45d" stroke-width="1.5" stroke-linecap="round" stroke-linejoin="round"/></svg>
<div style="position:absolute;top:498.60px;font-size:13px;line-height:13px;color:#22a45d;font-weight:400;letter-spacing:-0.15px;white-space:nowrap;-webkit-text-stroke:0.45px #22a45d;left:464.25px;">Published</div>
<div style="position:absolute;top:499.24px;font-size:12px;line-height:12px;color:#333;font-weight:400;letter-spacing:0px;white-space:nowrap;left:564.5px;">2</div>
<svg style="position:absolute;left:584.5px;top:490px;" width="11" height="30" viewBox="0 0 11 30" fill="none"><circle cx="5.4" cy="5.4" r="4.1" stroke="#8a8a8a" stroke-width="1.3"/><circle cx="5.4" cy="5.4" r="1.8" fill="#8a8a8a"/><path d="M5.4 10.2V19.2" stroke="#999" stroke-width="1.1" stroke-dasharray="2.2 1.6"/><circle cx="5.4" cy="24.4" r="4.1" stroke="#8a8a8a" stroke-width="1.3"/><circle cx="5.4" cy="24.4" r="1.8" fill="#8a8a8a"/></svg>
<div style="position:absolute;top:493.28px;font-size:10.3px;line-height:10.3px;color:#555;font-weight:400;letter-spacing:-0.06px;white-space:nowrap;-webkit-text-stroke:0.1px #555;left:597.5px;">Website Page Visited</div>
<div style="position:absolute;top:507.58px;font-size:10.3px;line-height:10.3px;color:#555;font-weight:400;letter-spacing:-0.06px;white-space:nowrap;-webkit-text-stroke:0.1px #555;left:597.5px;">Website Page Visited</div>
<div style="position:absolute;top:491.59px;font-size:12.3px;line-height:12.3px;color:#444;font-weight:400;letter-spacing:0.1px;white-space:nowrap;right:427.70000000000005px;text-align:right;">50</div>
<div style="position:absolute;top:510.02px;font-size:9.9px;line-height:9.9px;color:#ec3d20;font-weight:400;letter-spacing:-0.3px;white-space:nowrap;-webkit-text-stroke:0.3px #ec3d20;right:428px;text-align:right;">-35.1%</div>
<div style="position:absolute;top:491.59px;font-size:12.3px;line-height:12.3px;color:#444;font-weight:400;letter-spacing:0.1px;white-space:nowrap;right:360.79999999999995px;text-align:right;">35</div>
<div style="position:absolute;top:510.02px;font-size:9.9px;line-height:9.9px;color:#ec3d20;font-weight:400;letter-spacing:0.0px;white-space:nowrap;-webkit-text-stroke:0.3px #ec3d20;right:361px;text-align:right;">-42.6%</div>
<div style="position:absolute;top:491.59px;font-size:12.3px;line-height:12.3px;color:#444;font-weight:400;letter-spacing:0.0px;white-space:nowrap;right:296.70000000000005px;text-align:right;">70%</div>
<div style="position:absolute;top:510.02px;font-size:9.9px;line-height:9.9px;color:#ec3d20;font-weight:400;letter-spacing:-0.2px;white-space:nowrap;-webkit-text-stroke:0.3px #ec3d20;right:296.70000000000005px;text-align:right;">-11.6%</div>
<div style="position:absolute;top:498.64px;font-size:12px;line-height:12px;color:#444;font-weight:400;letter-spacing:0.13px;white-space:nowrap;left:944.5px;">N/A</div>
<div style="position:absolute;left:1033.3px;top:486px;width:37.40000000000009px;height:38px;background:#f3eefc;border-radius:9px;"></div>
<svg style="position:absolute;left:1044.5px;top:497.5px;" width="16" height="15" viewBox="0 0 16 15" fill="none"><g stroke="#5a05bb" stroke-width="1.3" stroke-linejoin="round"><rect x="1.15" y="1.05" width="13.2" height="3.4"/><path d="M5.5 1.05v3.4M10.1 1.05v3.4"/><path d="M3.9 4.45L5.8 10V13.6H9.9V10L10.6 4.45"/><path d="M5.8 10H9.9"/></g></svg>
<div style="position:absolute;left:1075.3px;top:486px;width:37.200000000000045px;height:38px;background:#f3eefc;border-radius:9px;"></div>
<svg style="position:absolute;left:1085px;top:496px;" width="18" height="18" viewBox="0 0 18 18" fill="none"><circle cx="8.8" cy="9" r="7.7" stroke="#5a05bb" stroke-width="1.4"/><circle cx="5.6" cy="9" r="0.95" fill="#5a05bb"/><circle cx="8.8" cy="9" r="0.95" fill="#5a05bb"/><circle cx="12" cy="9" r="0.95" fill="#5a05bb"/></svg>
<div style="position:absolute;left:111.80px;top:543.60px;width:38px;height:38px;background:#f6f6f6;border-radius:50%;"></div>
<svg style="position:absolute;left:122.5px;top:556.2px;" width="16" height="14" viewBox="0 0 16 14" fill="none"><rect x="1.3" y="0.6" width="13.8" height="3.3" rx="1.65" fill="#b0b0b0" stroke="#444" stroke-width="1"/><rect x="3.2" y="5.3" width="10" height="3.3" rx="1.65" fill="#b0b0b0" stroke="#444" stroke-width="1"/><rect x="4.9" y="10.1" width="6.6" height="3.0" rx="1.5" fill="#d0d0d0" stroke="#444" stroke-width="1"/></svg>
<div style="position:absolute;top:552.74px;font-size:12px;line-height:12px;color:#333;font-weight:400;letter-spacing:-0.05px;white-space:nowrap;-webkit-text-stroke:0.2px #333;left:161.4px;">Funnel 5</div>
<div style="position:absolute;top:567.47px;font-size:10.2px;line-height:10.2px;color:#666;font-weight:400;letter-spacing:0px;white-space:nowrap;left:159.4px;">10/14/2025, 3:11 PM ·<span style="margin-left:1.5px"> </span>ceo@yourwebsitename.com</div>
<div style="position:absolute;left:434px;top:545.9px;width:98px;height:33.0px;background:#edf8f2;border-radius:16.5px;"></div>
<svg style="position:absolute;left:442.5px;top:554.6px;" width="16" height="16" viewBox="0 0 16 16" fill="none"><circle cx="7.6" cy="8" r="6.5" stroke="#22a45d" stroke-width="1.5"/><path d="M4.9 8.1l1.9 1.9 3.6-3.6" stroke="#22a45d" stroke-width="1.5" stroke-linecap="round" stroke-linejoin="round"/></svg>
<div style="position:absolute;top:556.20px;font-size:13px;line-height:13px;color:#22a45d;font-weight:400;letter-spacing:-0.15px;white-space:nowrap;-webkit-text-stroke:0.45px #22a45d;left:464.25px;">Published</div>
<div style="position:absolute;top:556.84px;font-size:12px;line-height:12px;color:#333;font-weight:400;letter-spacing:0px;white-space:nowrap;left:564.5px;">2</div>
<svg style="position:absolute;left:584.5px;top:547.6px;" width="11" height="30" viewBox="0 0 11 30" fill="none"><circle cx="5.4" cy="5.4" r="4.1" stroke="#8a8a8a" stroke-width="1.3"/><circle cx="5.4" cy="5.4" r="1.8" fill="#8a8a8a"/><path d="M5.4 10.2V19.2" stroke="#999" stroke-width="1.1" stroke-dasharray="2.2 1.6"/><circle cx="5.4" cy="24.4" r="4.1" stroke="#8a8a8a" stroke-width="1.3"/><circle cx="5.4" cy="24.4" r="1.8" fill="#8a8a8a"/></svg>
<div style="position:absolute;top:550.88px;font-size:10.3px;line-height:10.3px;color:#555;font-weight:400;letter-spacing:-0.06px;white-space:nowrap;-webkit-text-stroke:0.1px #555;left:597.5px;">Website Page Visited</div>
<div style="position:absolute;top:565.18px;font-size:10.3px;line-height:10.3px;color:#555;font-weight:400;letter-spacing:-0.06px;white-space:nowrap;-webkit-text-stroke:0.1px #555;left:597.5px;">Website Page Visited</div>
<div style="position:absolute;top:549.19px;font-size:12.3px;line-height:12.3px;color:#444;font-weight:400;letter-spacing:0.1px;white-space:nowrap;right:427.70000000000005px;text-align:right;">50</div>
<div style="position:absolute;top:567.62px;font-size:9.9px;line-height:9.9px;color:#ec3d20;font-weight:400;letter-spacing:-0.3px;white-space:nowrap;-webkit-text-stroke:0.3px #ec3d20;right:428px;text-align:right;">-35.1%</div>
<div style="position:absolute;top:549.19px;font-size:12.3px;line-height:12.3px;color:#444;font-weight:400;letter-spacing:0.1px;white-space:nowrap;right:360.79999999999995px;text-align:right;">35</div>
<div style="position:absolute;top:567.62px;font-size:9.9px;line-height:9.9px;color:#ec3d20;font-weight:400;letter-spacing:0.0px;white-space:nowrap;-webkit-text-stroke:0.3px #ec3d20;right:361px;text-align:right;">-42.6%</div>
<div style="position:absolute;top:549.19px;font-size:12.3px;line-height:12.3px;color:#444;font-weight:400;letter-spacing:0.0px;white-space:nowrap;right:296.70000000000005px;text-align:right;">70%</div>
<div style="position:absolute;top:567.62px;font-size:9.9px;line-height:9.9px;color:#ec3d20;font-weight:400;letter-spacing:-0.2px;white-space:nowrap;-webkit-text-stroke:0.3px #ec3d20;right:296.70000000000005px;text-align:right;">-11.6%</div>
<div style="position:absolute;top:556.24px;font-size:12px;line-height:12px;color:#444;font-weight:400;letter-spacing:0.13px;white-space:nowrap;left:944.5px;">N/A</div>
<div style="position:absolute;left:1033.3px;top:543.6px;width:37.40000000000009px;height:38.0px;background:#f3eefc;border-radius:9px;"></div>
<svg style="position:absolute;left:1044.5px;top:555.1px;" width="16" height="15" viewBox="0 0 16 15" fill="none"><g stroke="#5a05bb" stroke-width="1.3" stroke-linejoin="round"><rect x="1.15" y="1.05" width="13.2" height="3.4"/><path d="M5.5 1.05v3.4M10.1 1.05v3.4"/><path d="M3.9 4.45L5.8 10V13.6H9.9V10L10.6 4.45"/><path d="M5.8 10H9.9"/></g></svg>
<div style="position:absolute;left:1075.3px;top:543.6px;width:37.200000000000045px;height:38.0px;background:#f3eefc;border-radius:9px;"></div>
<svg style="position:absolute;left:1085px;top:553.6px;" width="18" height="18" viewBox="0 0 18 18" fill="none"><circle cx="8.8" cy="9" r="7.7" stroke="#5a05bb" stroke-width="1.4"/><circle cx="5.6" cy="9" r="0.95" fill="#5a05bb"/><circle cx="8.8" cy="9" r="0.95" fill="#5a05bb"/><circle cx="12" cy="9" r="0.95" fill="#5a05bb"/></svg>
<div style="position:absolute;left:111.80px;top:601.40px;width:38px;height:38px;background:#f6f6f6;border-radius:50%;"></div>
<svg style="position:absolute;left:122.5px;top:614.0px;" width="16" height="14" viewBox="0 0 16 14" fill="none"><rect x="1.3" y="0.6" width="13.8" height="3.3" rx="1.65" fill="#b0b0b0" stroke="#444" stroke-width="1"/><rect x="3.2" y="5.3" width="10" height="3.3" rx="1.65" fill="#b0b0b0" stroke="#444" stroke-width="1"/><rect x="4.9" y="10.1" width="6.6" height="3.0" rx="1.5" fill="#d0d0d0" stroke="#444" stroke-width="1"/></svg>
<div style="position:absolute;top:608.64px;font-size:12px;line-height:12px;color:#333;font-weight:400;letter-spacing:-0.05px;white-space:nowrap;-webkit-text-stroke:0.2px #333;left:161.4px;">Funnel 6</div>
<div style="position:absolute;top:625.27px;font-size:10.2px;line-height:10.2px;color:#666;font-weight:400;letter-spacing:0px;white-space:nowrap;left:159.4px;">10/13/2025, 11:55 PM · ceo@yourwebsitename.com</div>
<div style="position:absolute;left:434px;top:603.6999999999999px;width:98px;height:33.0px;background:#edf8f2;border-radius:16.5px;"></div>
<svg style="position:absolute;left:442.5px;top:612.4px;" width="16" height="16" viewBox="0 0 16 16" fill="none"><circle cx="7.6" cy="8" r="6.5" stroke="#22a45d" stroke-width="1.5"/><path d="M4.9 8.1l1.9 1.9 3.6-3.6" stroke="#22a45d" stroke-width="1.5" stroke-linecap="round" stroke-linejoin="round"/></svg>
<div style="position:absolute;top:614.00px;font-size:13px;line-height:13px;color:#22a45d;font-weight:400;letter-spacing:-0.15px;white-space:nowrap;-webkit-text-stroke:0.45px #22a45d;left:464.25px;">Published</div>
<div style="position:absolute;top:614.64px;font-size:12px;line-height:12px;color:#333;font-weight:400;letter-spacing:0px;white-space:nowrap;left:564.5px;">2</div>
<svg style="position:absolute;left:584.5px;top:605.4px;" width="11" height="30" viewBox="0 0 11 30" fill="none"><circle cx="5.4" cy="5.4" r="4.1" stroke="#8a8a8a" stroke-width="1.3"/><circle cx="5.4" cy="5.4" r="1.8" fill="#8a8a8a"/><path d="M5.4 10.2V19.2" stroke="#999" stroke-width="1.1" stroke-dasharray="2.2 1.6"/><circle cx="5.4" cy="24.4" r="4.1" stroke="#8a8a8a" stroke-width="1.3"/><circle cx="5.4" cy="24.4" r="1.8" fill="#8a8a8a"/></svg>
<div style="position:absolute;top:608.68px;font-size:10.3px;line-height:10.3px;color:#555;font-weight:400;letter-spacing:-0.06px;white-space:nowrap;-webkit-text-stroke:0.1px #555;left:597.5px;">Website Page Visited</div>
<div style="position:absolute;top:622.98px;font-size:10.3px;line-height:10.3px;color:#555;font-weight:400;letter-spacing:-0.06px;white-space:nowrap;-webkit-text-stroke:0.1px #555;left:597.5px;">Website Page Visited</div>
<div style="position:absolute;top:606.99px;font-size:12.3px;line-height:12.3px;color:#444;font-weight:400;letter-spacing:0.1px;white-space:nowrap;right:427.70000000000005px;text-align:right;">50</div>
<div style="position:absolute;top:625.42px;font-size:9.9px;line-height:9.9px;color:#ec3d20;font-weight:400;letter-spacing:-0.3px;white-space:nowrap;-webkit-text-stroke:0.3px #ec3d20;right:428px;text-align:right;">-35.1%</div>
<div style="position:absolute;top:606.99px;font-size:12.3px;line-height:12.3px;color:#444;font-weight:400;letter-spacing:0.1px;white-space:nowrap;right:360.79999999999995px;text-align:right;">35</div>
<div style="position:absolute;top:625.42px;font-size:9.9px;line-height:9.9px;color:#ec3d20;font-weight:400;letter-spacing:0.0px;white-space:nowrap;-webkit-text-stroke:0.3px #ec3d20;right:361px;text-align:right;">-42.6%</div>
<div style="position:absolute;top:606.99px;font-size:12.3px;line-height:12.3px;color:#444;font-weight:400;letter-spacing:0.0px;white-space:nowrap;right:296.70000000000005px;text-align:right;">70%</div>
<div style="position:absolute;top:625.42px;font-size:9.9px;line-height:9.9px;color:#ec3d20;font-weight:400;letter-spacing:-0.2px;white-space:nowrap;-webkit-text-stroke:0.3px #ec3d20;right:296.70000000000005px;text-align:right;">-11.6%</div>
<div style="position:absolute;top:614.04px;font-size:12px;line-height:12px;color:#444;font-weight:400;letter-spacing:0.13px;white-space:nowrap;left:944.5px;">N/A</div>
<div style="position:absolute;left:1033.3px;top:601.4px;width:37.40000000000009px;height:38.0px;background:#f3eefc;border-radius:9px;"></div>
<svg style="position:absolute;left:1044.5px;top:612.9px;" width="16" height="15" viewBox="0 0 16 15" fill="none"><g stroke="#5a05bb" stroke-width="1.3" stroke-linejoin="round"><rect x="1.15" y="1.05" width="13.2" height="3.4"/><path d="M5.5 1.05v3.4M10.1 1.05v3.4"/><path d="M3.9 4.45L5.8 10V13.6H9.9V10L10.6 4.45"/><path d="M5.8 10H9.9"/></g></svg>
<div style="position:absolute;left:1075.3px;top:601.4px;width:37.200000000000045px;height:38.0px;background:#f3eefc;border-radius:9px;"></div>
<svg style="position:absolute;left:1085px;top:611.4px;" width="18" height="18" viewBox="0 0 18 18" fill="none"><circle cx="8.8" cy="9" r="7.7" stroke="#5a05bb" stroke-width="1.4"/><circle cx="5.6" cy="9" r="0.95" fill="#5a05bb"/><circle cx="8.8" cy="9" r="0.95" fill="#5a05bb"/><circle cx="12" cy="9" r="0.95" fill="#5a05bb"/></svg>
<div style="position:absolute;left:699px;top:261px;width:384px;height:169.5px;border:4px solid #f5832b;background:#fff;"></div>
<div style="position:absolute;left:708px;top:268px;width:374.4000000000001px;height:34px;background:#f7f7f7;border-radius:11px;"></div>
<div style="position:absolute;left:709px;top:269px;width:185.5px;height:32px;background:#fff;border-radius:10px;box-shadow:0 0 0 1px #f2f2f2;"></div>
<div style="position:absolute;top:279.84px;font-size:10px;line-height:10px;color:#6a1cc4;font-weight:400;letter-spacing:0.11px;white-space:nowrap;-webkit-text-stroke:0.25px #6a1cc4;left:502.5px;width:600px;text-align:center;">New Filter</div>
<div style="position:absolute;top:280.94px;font-size:10px;line-height:10px;color:#6a1cc4;font-weight:400;letter-spacing:0.11px;white-space:nowrap;-webkit-text-stroke:0.25px #6a1cc4;left:687.6px;width:600px;text-align:center;">Report's Saved Filters</div>
<div style="position:absolute;left:708px;top:305.6px;width:374.4000000000001px;height:28.599999999999966px;background:#f7f7f7;border-radius:9px;"></div>
<svg style="position:absolute;left:716px;top:313px;" width="15" height="15" viewBox="0 0 15 15" fill="none"><circle cx="6.5" cy="6.5" r="4.9" stroke="#555" stroke-width="1.2"/><path d="M10.1 10.1l3.1 3.1" stroke="#555" stroke-width="1.2" stroke-linecap="round"/></svg>
<div style="position:absolute;top:315.34px;font-size:10px;line-height:10px;color:#a3a8b4;font-weight:400;letter-spacing:0.12px;white-space:nowrap;left:740px;">Search filters</div>
<svg style="position:absolute;left:1059.5px;top:312px;" width="16" height="16" viewBox="0 0 16 16" fill="none"><path d="M8.6 2.2l4.2 4.2-5.7 5.7H4.7L2.6 10a1.4 1.4 0 0 1 0-2z" stroke="#555" stroke-width="1.1" stroke-linejoin="round"/><path d="M5 5.9l4.2 4.2M2.2 14.1h11.3" stroke="#555" stroke-width="1.1" stroke-linecap="round"/></svg>
<svg style="position:absolute;left:713.5px;top:348px;" width="13" height="11" viewBox="0 0 13 11" fill="none"><g stroke="#bdbdbd" stroke-width="1.1" stroke-linecap="round"><path d="M1.6 0.6v3.6M1.6 7.6v2.8M6.2 0.6v1.3M6.2 4.9v5.5M10.8 0.6v3.6M10.8 7.6v2.8"/><path d="M0.3 5.9h2.6M4.9 3.4h2.6M9.5 5.9h2.6"/></g></svg>
<div style="position:absolute;top:347.54px;font-size:10px;line-height:10px;color:#444;font-weight:400;letter-spacing:0.0px;white-space:nowrap;-webkit-text-stroke:0.25px #444;left:732.6px;">Funnel Name</div>
<svg style="position:absolute;left:1063px;top:346px;" width="14" height="14" viewBox="0 0 14 14" fill="none"><circle cx="6.7" cy="6.7" r="5.9" stroke="#8d8d8d" stroke-width="1"/><path d="M4 6.7h5.3M7.2 4.6l2.1 2.1-2.1 2.1" stroke="#8d8d8d" stroke-width="1" stroke-linecap="round" stroke-linejoin="round"/></svg>
<svg style="position:absolute;left:713.5px;top:375.2px;" width="13" height="11" viewBox="0 0 13 11" fill="none"><g stroke="#bdbdbd" stroke-width="1.1" stroke-linecap="round"><path d="M1.6 0.6v3.6M1.6 7.6v2.8M6.2 0.6v1.3M6.2 4.9v5.5M10.8 0.6v3.6M10.8 7.6v2.8"/><path d="M0.3 5.9h2.6M4.9 3.4h2.6M9.5 5.9h2.6"/></g></svg>
<div style="position:absolute;top:374.74px;font-size:10px;line-height:10px;color:#444;font-weight:400;letter-spacing:0.0px;white-space:nowrap;-webkit-text-stroke:0.25px #444;left:732.6px;">Status</div>
<svg style="position:absolute;left:1063px;top:373.2px;" width="14" height="14" viewBox="0 0 14 14" fill="none"><circle cx="6.7" cy="6.7" r="5.9" stroke="#8d8d8d" stroke-width="1"/><path d="M4 6.7h5.3M7.2 4.6l2.1 2.1-2.1 2.1" stroke="#8d8d8d" stroke-width="1" stroke-linecap="round" stroke-linejoin="round"/></svg>
<div style="position:absolute;left:708px;top:401.8px;width:374.4000000000001px;height:28.80000000000001px;background:#f7f7f7;border-radius:9px;"></div>
<div style="position:absolute;top:410.84px;font-size:10px;line-height:10px;color:#444;font-weight:400;letter-spacing:0.1px;white-space:nowrap;-webkit-text-stroke:0.2px #444;left:595px;width:600px;text-align:center;">Close</div>
<div style="position:absolute;left:1160.30px;top:640.20px;width:38.8px;height:38.8px;background:#5a05bb;border-radius:50%;"></div>
<svg style="position:absolute;left:1171.5px;top:652.5px;" width="17" height="16" viewBox="0 0 17 16" fill="none"><path d="M3.4 1h9.2a2.3 2.3 0 0 1 2.3 2.3v6a2.3 2.3 0 0 1-2.3 2.3H6.9L4.4 13.9v-2.3h-1A2.3 2.3 0 0 1 1.1 9.3v-6A2.3 2.3 0 0 1 3.4 1z" stroke="#fff" stroke-width="1.3" stroke-linejoin="round"/><circle cx="5.4" cy="6.3" r="0.85" fill="#fff"/><circle cx="8" cy="6.3" r="0.85" fill="#fff"/><path d="M11 4.2v4.3" stroke="#fff" stroke-width="1.6" stroke-linecap="round"/></svg>
</body></html>
